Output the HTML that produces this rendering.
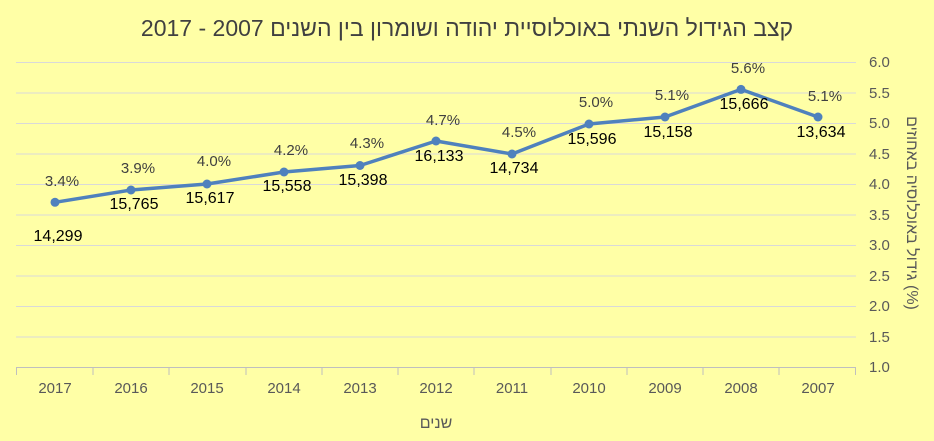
<!DOCTYPE html>
<html><head><meta charset="utf-8"><style>
body{margin:0;background:#FFFFA6;}
svg{display:block;font-family:"Liberation Sans","DejaVu Sans",sans-serif;}
</style></head><body>
<svg width="934" height="441" xmlns="http://www.w3.org/2000/svg">
<rect width="934" height="441" fill="#FFFFA6"/>
<text x="467" y="36" text-anchor="middle" font-size="23" fill="#404040">קצב הגידול השנתי באוכלוסיית יהודה ושומרון בין השנים 2007 - 2017</text>
<g stroke="#D9D9D9" stroke-width="1">
<line x1="16" x2="856" y1="62.5" y2="62.5"/><line x1="16" x2="856" y1="93" y2="93"/>
<line x1="16" x2="856" y1="123.5" y2="123.5"/><line x1="16" x2="856" y1="154" y2="154"/>
<line x1="16" x2="856" y1="184.5" y2="184.5"/><line x1="16" x2="856" y1="215" y2="215"/>
<line x1="16" x2="856" y1="245.5" y2="245.5"/><line x1="16" x2="856" y1="276" y2="276"/>
<line x1="16" x2="856" y1="306.5" y2="306.5"/><line x1="16" x2="856" y1="337" y2="337"/>
</g>
<g stroke="#BFBFBF" stroke-width="1">
<line x1="16" x2="856" y1="367.5" y2="367.5"/>
<line x1="16.5" x2="16.5" y1="367" y2="375"/><line x1="93" x2="93" y1="367" y2="375"/>
<line x1="169" x2="169" y1="367" y2="375"/><line x1="246" x2="246" y1="367" y2="375"/>
<line x1="322" x2="322" y1="367" y2="375"/><line x1="398" x2="398" y1="367" y2="375"/>
<line x1="474" x2="474" y1="367" y2="375"/><line x1="551" x2="551" y1="367" y2="375"/>
<line x1="627" x2="627" y1="367" y2="375"/><line x1="703" x2="703" y1="367" y2="375"/>
<line x1="779" x2="779" y1="367" y2="375"/><line x1="855.5" x2="855.5" y1="367" y2="375"/>
</g>
<g font-size="15" fill="#595959" text-anchor="start">
<text x="869" y="67">6.0</text><text x="869" y="98">5.5</text><text x="869" y="128">5.0</text>
<text x="869" y="159">4.5</text><text x="869" y="189">4.0</text><text x="869" y="220">3.5</text>
<text x="869" y="250">3.0</text><text x="869" y="281">2.5</text><text x="869" y="311">2.0</text>
<text x="869" y="342">1.5</text><text x="869" y="372">1.0</text>
</g>
<g font-size="15" fill="#595959" text-anchor="middle">
<text x="55" y="393">2017</text><text x="131" y="393">2016</text><text x="207" y="393">2015</text>
<text x="284" y="393">2014</text><text x="360" y="393">2013</text><text x="436" y="393">2012</text>
<text x="512" y="393">2011</text><text x="589" y="393">2010</text><text x="665" y="393">2009</text>
<text x="741" y="393">2008</text><text x="818" y="393">2007</text>
</g>
<text x="436" y="428" text-anchor="middle" font-size="16" fill="#595959">שנים</text>
<text transform="translate(907,213) rotate(90)" text-anchor="middle" font-size="16" fill="#595959">גידול באוכלוסיה באחוזים (%)</text>
<polyline fill="none" stroke="#4F81BD" stroke-width="3.5" stroke-linejoin="round" points="55,202.3 131,190 207,184 284,172 360,165.5 436,141 512,154 589,124 665,117 741,89.4 818,117"/>
<g fill="#4F81BD">
<circle cx="55" cy="202.3" r="4.5"/><circle cx="131" cy="190" r="4.5"/><circle cx="207" cy="184" r="4.5"/>
<circle cx="284" cy="172" r="4.5"/><circle cx="360" cy="165.5" r="4.5"/><circle cx="436" cy="141" r="4.5"/>
<circle cx="512" cy="154" r="4.5"/><circle cx="589" cy="124" r="4.5"/><circle cx="665" cy="117" r="4.5"/>
<circle cx="741" cy="89.4" r="4.5"/><circle cx="818" cy="117" r="4.5"/>
</g>
<g font-size="15" fill="#404040" text-anchor="middle">
<text x="62" y="186">3.4%</text><text x="138" y="173">3.9%</text><text x="214" y="166">4.0%</text>
<text x="291" y="155">4.2%</text><text x="367" y="148">4.3%</text><text x="443" y="125">4.7%</text>
<text x="519" y="137">4.5%</text><text x="596" y="107">5.0%</text><text x="672" y="100">5.1%</text>
<text x="748" y="73">5.6%</text><text x="825" y="101">5.1%</text>
</g>
<g font-size="16" fill="#000" text-anchor="middle">
<text x="58" y="241">14,299</text><text x="134" y="209">15,765</text><text x="210" y="203">15,617</text>
<text x="287" y="191">15,558</text><text x="363" y="185">15,398</text><text x="439" y="161">16,133</text>
<text x="514" y="173">14,734</text><text x="592" y="144">15,596</text><text x="668" y="137">15,158</text>
<text x="744" y="109">15,666</text><text x="821" y="137">13,634</text>
</g>
</svg>
</body></html>
